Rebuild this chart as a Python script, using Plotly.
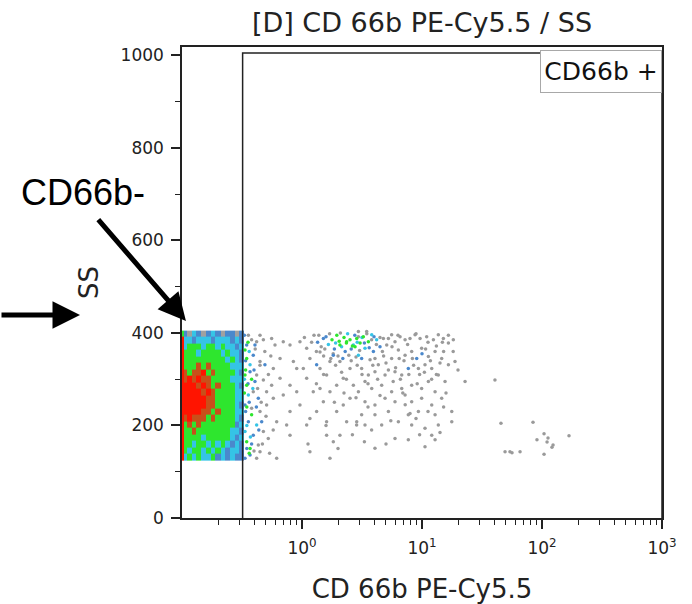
import plotly.graph_objects as go

# ---------------- data ----------------
title_text = "[D] CD 66b PE-Cy5.5 / SS"
x_title = "CD 66b PE-Cy5.5"
y_title = "SS"

x_tick_vals = [1, 10, 100, 1000]
x_tick_text = ["10<sup>0</sup>", "10<sup>1</sup>", "10<sup>2</sup>", "10<sup>3</sup>"]
x_minor_vals = [0.2, 0.3, 0.4, 0.5, 0.6, 0.7, 0.8, 0.9,
                2, 3, 4, 5, 6, 7, 8, 9,
                20, 30, 40, 50, 60, 70, 80, 90,
                200, 300, 400, 500, 600, 700, 800, 900]
y_tick_vals = [0, 200, 400, 600, 800, 1000]
y_minor_vals = [100, 300, 500, 700, 900]

# CD66b+ gate (CD 66b from 0.32 upward, SS 0..1005)
gate_cd66b = [0.32, 0.32, 1000, 1000]
gate_ss = [0, 1005, 1005, 0]

# density of the CD66b- population (levels: 1 grey,2 blue,3 cyan,4 green,5 red/green,6 red)
dense_cd66b_bins = [0.100, 0.103, 0.110, 0.120, 0.130, 0.145, 0.160, 0.175,
                    0.190, 0.210, 0.230, 0.250, 0.275, 0.300, 0.330]
dense_ss_bins = [125, 139, 153, 167, 181, 195, 209, 223, 237, 251, 265,
                 279, 293, 307, 321, 335, 349, 363, 377, 391, 405]
dense_levels = [
    [6, 3, 4, 3, 4, 3, 3, 4, 2, 3, 2, 3, 2, 2],
    [6, 4, 3, 4, 4, 3, 4, 3, 4, 3, 2, 3, 3, 2],
    [6, 4, 4, 3, 4, 4, 3, 4, 3, 4, 3, 2, 3, 2],
    [6, 4, 4, 4, 4, 3, 4, 4, 4, 4, 4, 3, 2, 3],
    [6, 4, 4, 5, 4, 4, 4, 4, 4, 4, 4, 3, 3, 2],
    [6, 4, 5, 4, 5, 4, 4, 4, 4, 4, 4, 4, 2, 3],
    [6, 5, 6, 5, 5, 5, 4, 5, 4, 4, 4, 4, 3, 2],
    [6, 6, 6, 6, 6, 5, 5, 4, 5, 4, 4, 4, 3, 3],
    [6, 6, 6, 6, 6, 6, 5, 5, 4, 4, 4, 4, 3, 2],
    [6, 6, 6, 6, 6, 6, 5, 5, 4, 4, 4, 4, 3, 3],
    [6, 6, 6, 6, 6, 5, 6, 5, 4, 4, 4, 4, 3, 3],
    [6, 6, 6, 6, 5, 6, 5, 4, 5, 4, 4, 4, 3, 2],
    [6, 5, 6, 5, 6, 5, 5, 4, 4, 4, 4, 3, 3, 3],
    [6, 5, 4, 5, 5, 6, 4, 5, 4, 4, 4, 4, 3, 2],
    [6, 4, 4, 4, 5, 4, 5, 4, 4, 4, 4, 3, 3, 3],
    [6, 4, 4, 4, 4, 4, 4, 4, 4, 4, 3, 4, 3, 2],
    [6, 4, 4, 4, 3, 4, 4, 4, 4, 3, 4, 3, 3, 2],
    [6, 3, 4, 4, 4, 3, 4, 4, 3, 4, 3, 3, 2, 3],
    [6, 3, 3, 2, 3, 3, 3, 2, 3, 3, 3, 2, 3, 2],
    [4, 2, 1, 3, 2, 1, 2, 3, 2, 1, 2, 2, 1, 2],
]

# individual sparse events: (log10 CD 66b, SS)
events_grey = [
    (-0.420, 385), (-0.378, 381), (-0.322, 385), (-0.253, 388), (-0.350, 338), (-0.378, 309),
    (-0.322, 298), (-0.420, 237), (-0.350, 230), (-0.295, 244), (-0.322, 187), (-0.364, 158),
    (-0.378, 129), (-0.253, 287), (-0.239, 259), (-0.211, 208), (-0.239, 323), (-0.183, 345),
    (-0.225, 374), (-0.156, 381), (-0.100, 374), (-0.072, 338), (-0.044, 323), (-0.017, 381),
    (0.039, 367), (0.066, 345), (0.150, 359), (0.150, 323), (0.205, 309), (0.233, 338),
    (0.316, 338), (0.400, 323), (0.344, 302), (0.289, 287), (0.233, 273), (0.178, 251),
    (0.122, 230), (0.066, 215), (0.039, 201), (-0.017, 244), (-0.100, 230), (-0.128, 201),
    (0.205, 208), (0.289, 230), (0.344, 244), (0.400, 259), (0.428, 287), (0.316, 179),
    (0.205, 179), (0.261, 165), (-0.100, 179), (0.066, 143), (0.233, 129), (-0.211, 129),
    (0.372, 208), (0.455, 201), (0.150, 280), (0.039, 302), (0.094, 273), (-0.044, 273),
    (-0.156, 266), (-0.100, 287), (-0.183, 302), (0.011, 323), (-0.406, 273), (-0.350, 143),
    (-0.295, 273), (-0.350, 395), (-0.447, 395), (-0.281, 172),
    (-0.40, 145), (-0.39, 365), (-0.37, 280), (-0.35, 330), (-0.34, 250), (-0.33, 160),
    (-0.31, 360), (-0.30, 220), (-0.28, 310), (-0.27, 140), (-0.26, 350), (-0.24, 190),
    (0.470, 403), (0.539, 403), (0.706, 374), (0.608, 345), (0.636, 331), (0.720, 388),
    (0.747, 396), (0.775, 381), (0.817, 392), (0.859, 385), (0.900, 388), (0.942, 396),
    (0.984, 388), (1.039, 392), (1.095, 385), (1.136, 396), (1.178, 388), (1.220, 378),
    (1.261, 385), (0.803, 363), (0.859, 352), (0.914, 360), (0.997, 367), (1.053, 349),
    (1.109, 360), (1.164, 345), (1.220, 331), (1.275, 338), (0.747, 345), (0.970, 323),
    (1.025, 331), (1.081, 323), (1.136, 309), (1.192, 295), (1.359, 295), (0.831, 309),
    (0.775, 316), (0.692, 309), (0.608, 316), (0.553, 309), (0.497, 323), (0.525, 295),
    (0.470, 273), (0.581, 280), (0.664, 287), (0.747, 273), (0.831, 280), (0.914, 287),
    (0.997, 280), (1.053, 295), (1.109, 273), (1.164, 259), (1.081, 244), (0.997, 259),
    (0.914, 251), (0.859, 266), (0.775, 251), (0.692, 259), (0.608, 244), (0.525, 251),
    (0.497, 223), (0.608, 223), (0.720, 230), (0.886, 223), (0.970, 230), (1.109, 223),
    (1.248, 230), (0.803, 208), (0.914, 201), (1.025, 194), (1.136, 201), (1.248, 208),
    (0.664, 201), (0.525, 201), (0.775, 172), (0.886, 169), (1.081, 179), (1.109, 169),
    (0.608, 151), (1.025, 154), (0.456, 208), (0.900, 226), (0.678, 388), (0.567, 342),
    (1.608, 298), (1.658, 205), (1.925, 207), (2.017, 182), (2.050, 173), (2.042, 164),
    (2.092, 158), (2.083, 153), (1.958, 169), (2.225, 178), (2.017, 138), (1.692, 143),
    (1.733, 143), (1.750, 141), (1.817, 143),
    (0.10, 395), (0.16, 370), (0.48, 362), (0.54, 398), (0.58, 385), (0.62, 375),
    (0.65, 390), (0.67, 360), (0.30, 350), (0.26, 355), (0.39, 352), (0.45, 348),
    (0.18, 350), (0.12, 360), (0.23, 398), (0.32, 400), (0.47, 392),
    (0.75, 370), (0.80, 395), (0.88, 375), (0.95, 398), (1.05, 380), (1.12, 372),
    (1.18, 360), (1.22, 395), (0.85, 340), (0.93, 330), (1.02, 315), (1.15, 335),
    (0.78, 325), (0.70, 335), (1.08, 300), (0.96, 290), (0.82, 300),
    (0.02, 390), (0.08, 380), (0.14, 395), (0.19, 365), (0.24, 345), (0.28, 330),
    (0.33, 315), (0.37, 300), (0.41, 340), (0.46, 330), (0.50, 310), (0.55, 290),
    (0.59, 330), (0.63, 300), (0.68, 350), (0.72, 320), (0.76, 295), (0.81, 345),
    (0.84, 270), (0.89, 310), (0.92, 345), (0.98, 310), (1.03, 365), (1.07, 340),
    (1.12, 310), (1.17, 380), (1.20, 270), (1.26, 360), (1.30, 320), (0.12, 290),
    (0.18, 310), (0.27, 250), (0.35, 270), (0.45, 260), (0.55, 240), (0.65, 265),
    (0.74, 210), (0.86, 245), (0.95, 215), (1.05, 230), (1.18, 240), (0.20, 200),
    (0.42, 180), (0.58, 190), (0.70, 160), (0.98, 180), (1.15, 185), (0.05, 160),
    (0.30, 150), (0.52, 165),
]
events_blue = [
    (-0.461, 374), (-0.406, 352), (-0.433, 316), (-0.392, 295), (-0.364, 259), (-0.447, 208),
    (-0.406, 179), (-0.433, 136), (0.122, 331), (0.178, 388), (0.261, 352), (-0.475, 244),
    (-0.336, 208), (-0.475, 129), (-0.309, 331), (-0.392, 374),
    (-0.48, 395), (-0.47, 340), (-0.45, 290), (-0.47, 230), (-0.46, 150), (-0.44, 250),
    (-0.42, 160), (-0.40, 320), (-0.38, 240), (-0.36, 190),
    (0.595, 360), (0.650, 370), (0.497, 345), (0.956, 345), (0.886, 323),
    (0.13, 380), (0.20, 392), (0.27, 365), (0.36, 360), (0.44, 395), (0.52, 378),
    (0.56, 368), (0.60, 392), (0.34, 345), (0.41, 365), (1.00, 355),
]
events_cyan = [
    (-0.447, 266), (-0.378, 201), (0.428, 374), (-0.433, 331), (-0.475, 187),
    (-0.48, 300), (-0.46, 200), (-0.44, 360), (-0.43, 175), (-0.41, 280),
    (0.525, 367), (0.581, 396), (0.622, 385), (0.470, 352),
    (0.22, 375), (0.33, 370), (0.38, 398), (0.46, 380), (0.50, 390), (0.28, 378),
]
events_green = [
    (-0.461, 345), (-0.461, 287), (-0.461, 165), (0.316, 374), (0.372, 381), (-0.475, 363),
    (-0.475, 309), (-0.420, 223), (-0.433, 150),
    (-0.48, 270), (-0.47, 320), (-0.46, 240), (-0.45, 380), (-0.44, 140), (-0.42, 300),
    (0.456, 388), (0.484, 378), (0.511, 392), (0.553, 381), (0.442, 370),
    (0.25, 385), (0.29, 395), (0.31, 382), (0.35, 390), (0.40, 385), (0.42, 372), (0.37, 378),
]

# ---------------- figure ----------------
level_colors = ["#a0a0a0", "#4a88cc", "#35c4e6", "#2ee62e", "#c8501a", "#ff1400"]
n_lv = len(level_colors)
cscale = []
for i, c in enumerate(level_colors):
    cscale.append([i / n_lv, c])
    cscale.append([(i + 1) / n_lv, c])

fig = go.Figure()
fig.add_trace(go.Heatmap(
    x=dense_cd66b_bins, y=dense_ss_bins, z=dense_levels,
    zmin=0.5, zmax=n_lv + 0.5, colorscale=cscale, showscale=False,
    hoverinfo="skip",
))

for pts, col in [(events_grey, "#9a9a9a"), (events_blue, "#4a88cc"),
                 (events_cyan, "#35c4e6"), (events_green, "#2ee62e")]:
    fig.add_trace(go.Scatter(
        x=[10 ** p[0] for p in pts], y=[p[1] for p in pts],
        mode="markers", marker=dict(size=3.5, color=col, line=dict(width=0)),
        hoverinfo="skip", showlegend=False,
    ))

fig.add_trace(go.Scatter(
    x=gate_cd66b, y=gate_ss, mode="lines",
    line=dict(color="#222222", width=1.5), hoverinfo="skip", showlegend=False,
))

font_main = "DejaVu Sans, Verdana, sans-serif"
fig.update_layout(
    width=692, height=604,
    margin=dict(l=182, r=30, t=47, b=86),
    paper_bgcolor="white", plot_bgcolor="white",
    showlegend=False,
    title=dict(text=title_text, x=0.5, xref="paper", y=0.962, yref="container",
               xanchor="center", yanchor="middle",
               font=dict(family=font_main, size=27, color="#222222")),
    font=dict(family=font_main, size=17, color="#222222"),
    xaxis=dict(
        type="log", range=[-1, 3], showgrid=False, zeroline=False, automargin=False,
        showline=True, linecolor="#222222", linewidth=1.5, mirror=True,
        ticks="outside", ticklen=9, tickwidth=1.5, tickcolor="#222222",
        tickmode="array", tickvals=x_tick_vals, ticktext=x_tick_text,
        ticklabelstandoff=5,
        tickfont=dict(family=font_main, size=17, color="#222222"),
        minor=dict(tickmode="array", tickvals=x_minor_vals, ticks="outside",
                   ticklen=5, tickwidth=1.2, tickcolor="#222222", showgrid=False),
        title=dict(text=x_title, standoff=23,
                   font=dict(family=font_main, size=26, color="#222222")),
    ),
    yaxis=dict(
        range=[0, 1018], showgrid=False, zeroline=False, automargin=False,
        showline=True, linecolor="#222222", linewidth=1.5, mirror=True,
        ticks="outside", ticklen=9, tickwidth=1.5, tickcolor="#222222",
        tickmode="array", tickvals=y_tick_vals,
        ticklabelstandoff=4,
        tickfont=dict(family=font_main, size=17, color="#222222"),
        minor=dict(tickmode="array", tickvals=y_minor_vals, ticks="outside",
                   ticklen=5, tickwidth=1.2, tickcolor="#222222", showgrid=False),
        title=dict(text=y_title, standoff=14,
                   font=dict(family=font_main, size=26, color="#222222")),
    ),
    annotations=[
        dict(text="CD66b +", xref="paper", yref="paper", x=1.0, y=0.9936,
             xanchor="right", yanchor="top", showarrow=False,
             width=114, height=35,
             font=dict(family=font_main, size=25, color="#111111"),
             bgcolor="white", bordercolor="#a8a8a8", borderwidth=1, borderpad=3),
        dict(text="CD66b-", xref="paper", yref="paper", x=-0.206, y=0.692,
             xanchor="center", yanchor="middle", showarrow=False,
             font=dict(family="Liberation Sans, Arial, sans-serif", size=36, color="#000000")),
        dict(text="", xref="paper", yref="paper", x=0.0083, y=0.418,
             ax=-89, ay=-103, showarrow=True, arrowhead=2, arrowsize=1.1,
             arrowwidth=5, arrowcolor="#000000", standoff=0),
        dict(text="", xref="paper", yref="paper", x=-0.2125, y=0.431,
             ax=-92, ay=0, showarrow=True, arrowhead=2, arrowsize=1.1,
             arrowwidth=5, arrowcolor="#000000", standoff=0),
    ],
)

fig.write_html("out.html", config={"displayModeBar": False},
               post_script="document.body.style.margin='0';document.body.style.padding='0';")
